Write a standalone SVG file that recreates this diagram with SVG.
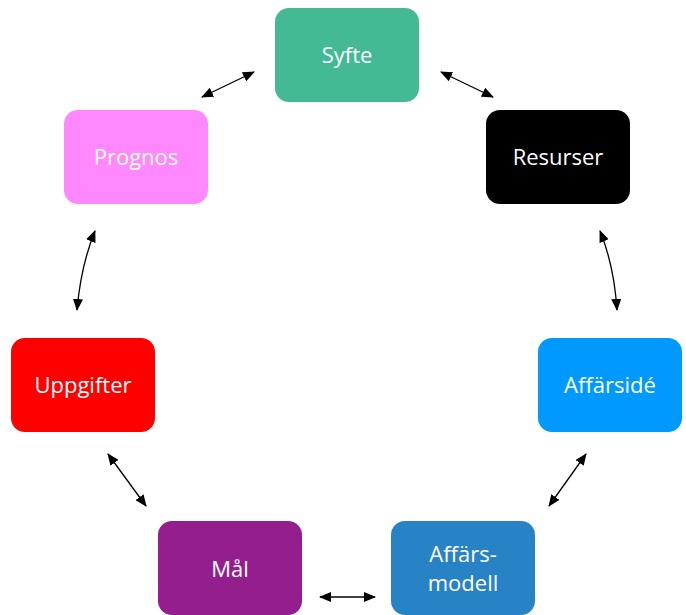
<svg xmlns="http://www.w3.org/2000/svg" width="686" height="615" viewBox="0 0 686 615">
<style>
.lbl{font-family:"Open Sans","Noto Sans","Liberation Sans",sans-serif;font-size:22px;fill:#fff;text-anchor:middle}
.c{fill:none;stroke:#000;stroke-width:1.3}
</style>
<defs>
<marker id="ah" viewBox="0 0 12 10" refX="11" refY="5" markerWidth="12" markerHeight="10" markerUnits="userSpaceOnUse" orient="auto-start-reverse">
<path d="M0,0 L12,5 L0,10 Z" fill="#000"/>
</marker>
</defs>
<rect width="686" height="615" fill="#fff"/>
<g id="connectors">
<path class="c" d="M202,97 L254,72" marker-start="url(#ah)" marker-end="url(#ah)"/>
<path class="c" d="M441,72 L493,97" marker-start="url(#ah)" marker-end="url(#ah)"/>
<path class="c" d="M600,231 Q614,265 617,310" marker-start="url(#ah)" marker-end="url(#ah)"/>
<path class="c" d="M586,454 L549,506" marker-start="url(#ah)" marker-end="url(#ah)"/>
<path class="c" d="M320,597 L375,597" marker-start="url(#ah)" marker-end="url(#ah)"/>
<path class="c" d="M108,454 L146,506" marker-start="url(#ah)" marker-end="url(#ah)"/>
<path class="c" d="M95,231 Q81,265 77,310" marker-start="url(#ah)" marker-end="url(#ah)"/>
</g>
<g id="syfte"><rect x="275" y="8" width="144" height="94" rx="14" fill="#43BA94"/><text class="lbl" x="347" y="63">Syfte</text></g>
<g id="resurser"><rect x="486" y="110" width="144" height="94" rx="14" fill="#000"/><text class="lbl" x="558" y="165">Resurser</text></g>
<g id="affarside"><rect x="538" y="338" width="144" height="94" rx="14" fill="#0099FF"/><text class="lbl" x="610" y="393">Affärsidé</text></g>
<g id="affarsmodell"><rect x="391" y="521" width="144" height="94" rx="14" fill="#2783C6"/><text class="lbl" x="463" y="562">Affärs-</text><text class="lbl" x="463" y="591">modell</text></g>
<g id="mal"><rect x="158" y="521" width="144" height="94" rx="14" fill="#951E8E"/><text class="lbl" x="230" y="577">Mål</text></g>
<g id="uppgifter"><rect x="11" y="338" width="144" height="94" rx="14" fill="#FF0000"/><text class="lbl" x="83" y="393">Uppgifter</text></g>
<g id="prognos"><rect x="64" y="110" width="144" height="94" rx="14" fill="#FF88FF"/><text class="lbl" x="136" y="165">Prognos</text></g>
</svg>
